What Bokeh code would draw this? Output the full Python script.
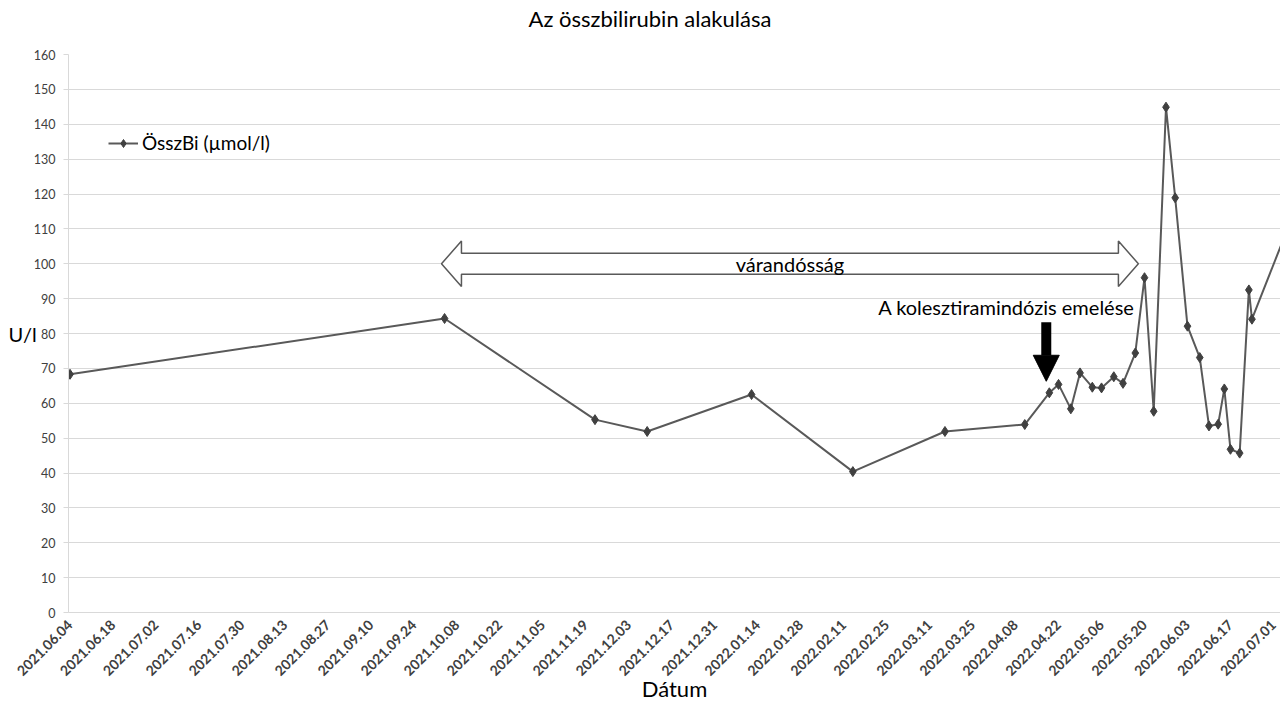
import math
import pandas as pd
from bokeh.plotting import figure
from bokeh.models import (ColumnDataSource, FixedTicker, Range1d, Arrow, NormalHead,
                          Legend, LegendItem, LinearAxis)
from bokeh.core.properties import value
from bokeh.embed import file_html
from bokeh.resources import INLINE

# ---------------- data ----------------
dates = ["2021-06-04", "2021-10-04", "2021-11-22", "2021-12-09", "2022-01-12",
         "2022-02-14", "2022-03-16", "2022-04-11", "2022-04-19", "2022-04-22",
         "2022-04-26", "2022-04-29", "2022-05-03", "2022-05-06", "2022-05-10",
         "2022-05-13", "2022-05-17", "2022-05-20", "2022-05-23", "2022-05-27",
         "2022-05-30", "2022-06-03", "2022-06-07", "2022-06-10", "2022-06-13",
         "2022-06-15", "2022-06-17", "2022-06-20", "2022-06-23", "2022-06-24",
         "2022-07-08"]
osszbi = [68.3, 84.3, 55.3, 51.9, 62.5,
          40.4, 51.9, 53.9, 63.0, 65.4,
          58.4, 68.7, 64.6, 64.4, 67.6,
          65.7, 74.4, 96.0, 57.7, 144.9,
          118.9, 82.1, 73.1, 53.5, 54.0,
          64.1, 46.8, 45.7, 92.5, 84.1,
          115.4]

tick_labels = ["2021.06.04", "2021.06.18", "2021.07.02", "2021.07.16", "2021.07.30",
               "2021.08.13", "2021.08.27", "2021.09.10", "2021.09.24", "2021.10.08",
               "2021.10.22", "2021.11.05", "2021.11.19", "2021.12.03", "2021.12.17",
               "2021.12.31", "2022.01.14", "2022.01.28", "2022.02.11", "2022.02.25",
               "2022.03.11", "2022.03.25", "2022.04.08", "2022.04.22", "2022.05.06",
               "2022.05.20", "2022.06.03", "2022.06.17", "2022.07.01"]
y_ticks = [0, 10, 20, 30, 40, 50, 60, 70, 80, 90, 100, 110, 120, 130, 140, 150, 160]

series_name = "ÖsszBi (µmol/l)"
title_text = "Az összbilirubin alakulása"
x_title = "Dátum"
y_title = "U/l"

# annotations
preg_start, preg_end, preg_y = "2021-10-03", "2022-05-18", 100
preg_text = "várandósság"
dose_text = "A kolesztiramindózis emelése"
dose_text_date, dose_text_y = "2022-04-05", 87.5
dose_arrow_date, dose_arrow_y0, dose_arrow_y1 = "2022-04-18", 83.2, 66.3

# ---------------- helpers ----------------
def ms(s):
    return pd.Timestamp(s).value / 1e6

DAY = 86400000.0
xs = [ms(d) for d in dates]
tick_ms = [ms(t.replace(".", "-")) for t in tick_labels]

FONT = "Lato"

p = figure(width=1280, height=705, output_backend="svg", toolbar_location=None,
           x_axis_type="datetime",
           x_range=Range1d(ms("2021-06-04") - 0.5 * DAY, ms("2022-07-01") + 2.3 * DAY),
           y_range=Range1d(0, 160),
           min_border_left=68, min_border_right=0, min_border_top=54, min_border_bottom=93)
p.outline_line_color = None
p.background_fill_color = "white"
p.border_fill_color = "white"

xa = p.below[0]
ya = p.left[0]

# invisible spacer axis above the frame (pushes the title upwards)
spacer = LinearAxis(ticker=FixedTicker(ticks=[]), axis_line_color=None,
                    major_tick_line_color=None, minor_tick_line_color=None,
                    major_label_text_font_size="0px",
                    axis_label=" ", axis_label_text_font_size="14px",
                    axis_label_standoff=4)
p.add_layout(spacer, "above")

# title
p.title.text = title_text
p.title.align = "left"
p.title.offset = 460
p.title.text_font = FONT
p.title.text_font_size = "22px"
p.title.text_font_style = "normal"
p.title.text_color = "#000000"
p.title.standoff = 0

# grid
p.xgrid.grid_line_color = None
p.ygrid.grid_line_color = "#d9d9d9"
p.ygrid.grid_line_width = 1

# x axis
xa.ticker = FixedTicker(ticks=tick_ms)
xa.major_label_overrides = {t: lab for t, lab in zip(tick_ms, tick_labels)}
xa.major_label_orientation = math.pi / 4
xa.major_label_text_font = FONT
xa.major_label_text_font_size = "14px"
xa.major_label_text_font_style = "bold"
xa.major_label_text_color = "#404040"
xa.axis_line_color = "#d9d9d9"
xa.major_tick_line_color = None
xa.minor_tick_line_color = None
xa.major_label_standoff = 4
xa.axis_label = x_title
xa.axis_label_text_font = FONT
xa.axis_label_text_font_size = "22px"
xa.axis_label_text_font_style = "normal"
xa.axis_label_text_color = "#000000"
xa.axis_label_standoff = -8

# y axis
ya.ticker = FixedTicker(ticks=y_ticks)
ya.major_label_text_font = FONT
ya.major_label_text_font_size = "12.5px"
ya.major_label_text_color = "#404040"
ya.axis_line_color = "#d9d9d9"
ya.major_tick_line_color = "#d9d9d9"
ya.major_tick_out = 5
ya.major_tick_in = 0
ya.minor_tick_line_color = None
ya.major_label_standoff = 8
ya.axis_label = y_title
ya.axis_label_orientation = "horizontal"
ya.axis_label_text_font = FONT
ya.axis_label_text_font_size = "20px"
ya.axis_label_text_font_style = "normal"
ya.axis_label_text_color = "#000000"
ya.axis_label_standoff = -6

# pregnancy double arrow (hollow block arrow)
s0, s1 = ms(preg_start), ms(preg_end)
hl = 6.5 * DAY
sh, hh = 3.0, 6.5
px = [s0, s0 + hl, s0 + hl, s1 - hl, s1 - hl, s1, s1 - hl, s1 - hl, s0 + hl, s0 + hl]
py = [preg_y, preg_y + hh, preg_y + sh, preg_y + sh, preg_y + hh, preg_y,
      preg_y - hh, preg_y - sh, preg_y - sh, preg_y - hh]
p.patch(px, py, fill_color="white", line_color="#595959", line_width=1.5)
p.text(x=[(s0 + s1) / 2], y=[preg_y], text=[preg_text], text_font=value(FONT),
       text_font_size="20px", text_align="center", text_baseline="middle",
       text_color="#000000")

# dose annotation
p.text(x=[ms(dose_text_date)], y=[dose_text_y], text=[dose_text], text_font=value(FONT),
       text_font_size="20px", text_align="center", text_baseline="middle",
       text_color="#000000")
p.add_layout(Arrow(end=NormalHead(size=26, fill_color="black", line_color="black", line_width=1),
                   x_start=ms(dose_arrow_date), y_start=dose_arrow_y0,
                   x_end=ms(dose_arrow_date), y_end=dose_arrow_y1,
                   line_color="black", line_width=10))

# series
src = ColumnDataSource(dict(x=xs, y=osszbi))
r_line = p.line("x", "y", source=src, line_color="#595959", line_width=2)
r_pts = p.scatter("x", "y", source=src, marker="diamond", size=10,
                  fill_color="#404040", line_color="#404040")

legend = Legend(items=[LegendItem(label=series_name, renderers=[r_line, r_pts])],
                location=(40, 458), border_line_color=None, background_fill_alpha=0,
                padding=0, margin=0, glyph_width=30, glyph_height=20, label_standoff=4,
                label_text_font=FONT, label_text_font_size="19px", label_text_color="#000000")
p.add_layout(legend)

open("out.html", "w").write(file_html(p, INLINE))
